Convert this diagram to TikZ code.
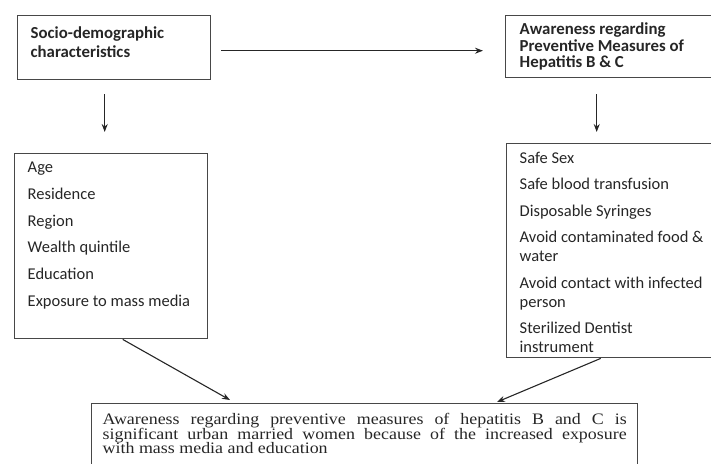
\documentclass[tikz,border=0pt]{standalone}
\usepackage{fontspec}
\setmainfont{Carlito}
\newfontfamily\timesfont[FakeStretch=1.12]{Liberation Serif}
\usetikzlibrary{arrows.meta,positioning,calc}

\begin{document}
\begin{tikzpicture}[x=1pt, y=-1pt, >={Stealth[length=8pt,width=6pt]}, auto, semithick]
\tikzstyle{box}=[draw=black!72, line width=1.4pt, anchor=north west, inner ysep=0pt, text=black!85]
\tikzstyle{link}=[->, draw=black!85, line width=1.1pt]
\useasboundingbox (0,0) rectangle (711,463);
\clip (0,0) rectangle (711,463);
\node[box, inner xsep=13pt] (socio) at (17,15)
  {\parbox[t][64pt][t]{167pt}{\fontsize{16.8}{19}\selectfont\bfseries\rule{0pt}{23pt}Socio-demographic\\characteristics}};
\node[box, inner xsep=14pt] (aware) at (505,15)
  {\parbox[t][62pt][t]{187pt}{\fontsize{16.8}{16.5}\selectfont\bfseries\rule{0pt}{19pt}Awareness regarding\\Preventive Measures of\\Hepatitis B \& C}};
\node[box, inner xsep=13pt] (factors) at (14,153)
  {\parbox[t][185pt][t]{167pt}{\fontsize{16.5}{19}\selectfont\rule{0pt}{19pt}Age\\[7.7pt]Residence\\[7.7pt]Region\\[7.7pt]Wealth quintile\\[7.7pt]Education\\[7.7pt]Exposure to mass media}};
\node[box, inner xsep=13pt] (measures) at (506,143)
  {\parbox[t][214pt][t]{200pt}{\fontsize{16.5}{19}\selectfont\rule{0pt}{19.5pt}Safe Sex\\[7.5pt]Safe blood transfusion\\[7.5pt]Disposable Syringes\\[7.5pt]Avoid contaminated food \&\\water\\[7.5pt]Avoid contact with infected\\person\\[7.5pt]Sterilized Dentist\\instrument}};
\node[box, inner xsep=11pt] (concl) at (91,403)
  {\parbox[t][80pt][t]{524pt}{\timesfont\fontsize{16}{14.8}\selectfont\rule{0pt}{20.5pt}Awareness regarding preventive measures of hepatitis B and C is\linebreak significant urban married women because of the increased exposure\linebreak with mass media and education}};
\path
($(socio.east)+(10,3)$)      edge[link] ($(aware.west)+(-22,4)$)
($(socio.south)+(-9.5,14)$)  edge[link] ($(factors.north)+(-6.5,-21)$)
($(aware.south)+(-16.5,16)$) edge[link] ($(measures.north)+(-23,-11)$)
($(factors.south)+(11.5,0)$) edge[link] ($(concl.north west)+(139,-3)$)
($(measures.south)+(-19,0)$) edge[link] ($(concl.north west)+(406,-1)$);
\end{tikzpicture}
\end{document}
